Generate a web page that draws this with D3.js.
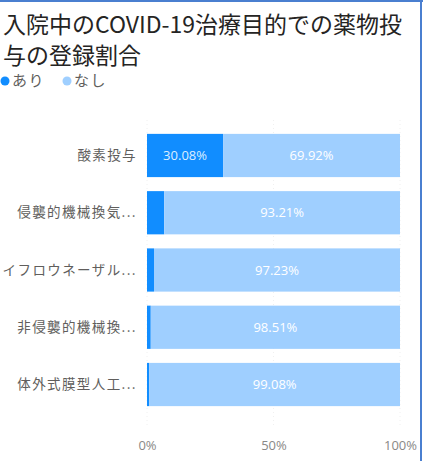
<!DOCTYPE html>
<html><head><meta charset="utf-8">
<script src="https://cdn.jsdelivr.net/npm/d3@7"></script>
<style>
body{margin:0;background:#fff;}
svg{display:block;font-family:"Noto Sans CJK JP","Noto Sans",sans-serif;}
</style></head>
<body><svg id="c" width="423" height="461"></svg>
<script>
const categories = ["酸素投与","侵襲的機械換気...","イフロウネーザル...","非侵襲的機械換...","体外式膜型人工..."];
const ari = [30.08, 6.79, 2.77, 1.49, 0.92];
const nashi = [69.92, 93.21, 97.23, 98.51, 99.08];
const seriesNames = ["あり","なし"];
const xTicks = [0, 50, 100];
const titleLines = ["入院中のCOVID-19治療目的での薬物投","与の登録割合"];

const colors = ["#118DFF","#9FCFFF"];
const svg = d3.select("#c");

// frame edges
svg.append("line").attr("x1",0).attr("x2",423).attr("y1",1).attr("y2",1).attr("stroke","#4a7fd0").attr("stroke-width",2);
svg.append("line").attr("x1",421).attr("x2",421).attr("y1",0).attr("y2",461).attr("stroke","#4a7fd0").attr("stroke-width",2);

// title
svg.selectAll("text.title").data(titleLines).join("text")
  .attr("class","title").attr("x",3).attr("y",(d,i)=>33+i*31)
  .attr("font-size",23).attr("fill","#252423").text(d=>d);

// legend
const lg = svg.append("g");
let lx = 5;
seriesNames.forEach((n,i)=>{
  lg.append("circle").attr("cx",lx).attr("cy",81).attr("r",4.5).attr("fill",colors[i]);
  const t = lg.append("text").attr("x",lx+7).attr("y",86).attr("font-size",15).attr("letter-spacing",1.5).attr("fill","#605E5C").text(n);
  lx += 7 + t.node().getComputedTextLength() + 22;
});

const x = d3.scaleLinear().domain([0,100]).range([147,400]);
const y = d3.scaleBand().domain(categories).range([127,413]).paddingInner(0.245).paddingOuter(0.12);

// faint gridlines
svg.append("g").selectAll("line").data(xTicks).join("line")
  .attr("x1",d=>x(d)).attr("x2",d=>x(d)).attr("y1",120).attr("y2",425)
  .attr("stroke","#f0f0f0").attr("stroke-dasharray","1,3");

const rows = categories.map((c,i)=>({c, a:ari[i], n:nashi[i]}));
const g = svg.append("g");
const numFont = "'Open Sans', Inter, sans-serif";
rows.forEach(r=>{
  g.append("rect").attr("x",x(0)).attr("y",y(r.c)).attr("width",x(r.a)-x(0)).attr("height",y.bandwidth()).attr("fill",colors[0]);
  g.append("rect").attr("x",x(r.a)).attr("y",y(r.c)).attr("width",x(r.a+r.n)-x(r.a)).attr("height",y.bandwidth()).attr("fill",colors[1]);
  const cy = y(r.c)+y.bandwidth()/2+4.5;
  if (r.a > 15) {
    g.append("text").attr("x",(x(0)+x(r.a))/2).attr("y",cy).attr("text-anchor","middle")
      .attr("font-size",13).attr("fill","#dcedff").attr("font-family",numFont).text(r.a.toFixed(2)+"%");
  }
  g.append("text").attr("x",(x(r.a)+x(100))/2).attr("y",cy).attr("text-anchor","middle")
    .attr("font-size",13).attr("fill","#ffffff").attr("font-family",numFont).text(r.n.toFixed(2)+"%");
  g.append("text").attr("x",137).attr("y",cy).attr("text-anchor","end")
    .attr("font-size",13.5).attr("letter-spacing",1.4).attr("fill","#605E5C").text(r.c);
});

// x axis
const ax = svg.append("g").attr("transform","translate(0,438)")
  .call(d3.axisBottom(x).tickValues(xTicks).tickFormat(d=>d+"%").tickSize(0));
ax.select(".domain").remove();
ax.selectAll("text").attr("font-size",13).attr("fill","#8a8886").attr("font-family",numFont);
</script></body></html>
